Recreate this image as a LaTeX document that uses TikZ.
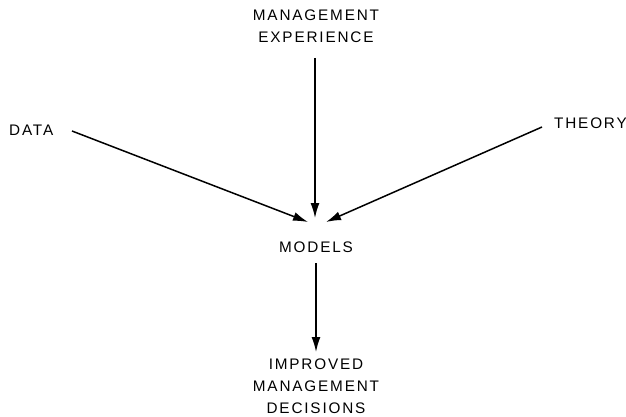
\documentclass[tikz,border=0pt]{standalone}
\usepackage{fontspec}
\setmainfont{Liberation Sans}[LetterSpace=12]
\usetikzlibrary{arrows.meta}
\begin{document}
\begin{tikzpicture}[x=1pt,y=-1pt,
  lbl/.style={font=\fontsize{15.3}{22}\selectfont, inner sep=0pt, align=center},
  arr/.style={line width=1.5pt, -{Latex[length=15pt,width=9pt]}}]
\useasboundingbox (0,0) rectangle (626,417);
\node[lbl] (exp) at (316,26) {MANAGEMENT\\EXPERIENCE};
\node[lbl, anchor=west] (data) at (9,130) {DATA};
\node[lbl, anchor=east] (theory) at (627,123) {THEORY};
\node[lbl] (models) at (316,247) {MODELS};
\node[lbl] (dec) at (316,386) {IMPROVED\\MANAGEMENT\\DECISIONS};
\coordinate (d0) at (72,131);
\coordinate (d1) at (308,222);
\coordinate (t0) at (542,127);
\coordinate (t1) at (326,222);
\coordinate (e0) at (315,58);
\coordinate (e1) at (315,218);
\coordinate (m0) at (316,263);
\coordinate (m1) at (316,352);
\draw[arr] (d0) -- (d1);
\draw[arr] (t0) -- (t1);
\draw[arr] (e0) -- (e1);
\draw[arr] (m0) -- (m1);
\end{tikzpicture}
\end{document}
